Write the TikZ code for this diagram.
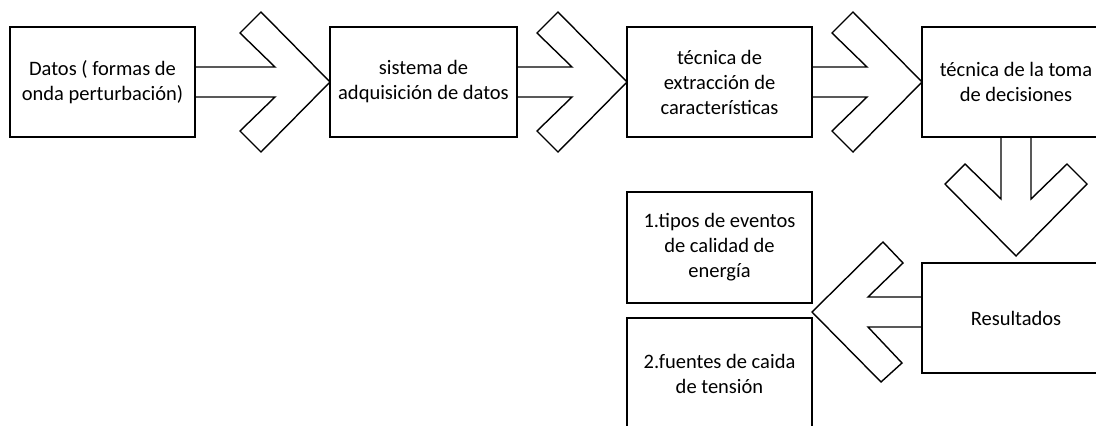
\documentclass[tikz,border=0pt]{standalone}
\usepackage{fontspec}
\setmainfont{Carlito}
\usetikzlibrary{calc}
\tikzset{
  box/.style={draw=black, line width=1.4pt, rectangle, inner sep=0pt, outer sep=0pt,
    align=center, font=\fontsize{20.5}{25}\selectfont, text=black},
  blk/.style={draw=black, line width=1.4pt, line join=miter}
}
\begin{document}
\begin{tikzpicture}[x=1pt,y=-1pt]
\useasboundingbox (0,0) rectangle (1096,426);
\clip (0,0) rectangle (1096,426);
\node[box, minimum width=185pt, minimum height=110pt] (A) at (102.5,82) {Datos ( formas de\\onda perturbación)};
\node[box, minimum width=187pt, minimum height=110pt] (B) at (423.5,82) {sistema de\\adquisición de datos};
\node[box, minimum width=185pt, minimum height=110pt] (C) at (719.5,82) {técnica de\\extracción de\\características};
\node[box, minimum width=188pt, minimum height=110pt] (D) at (1016,82) {técnica de la toma\\de decisiones};
\node[box, minimum width=188pt, minimum height=110pt] (R) at (1016,318) {Resultados};
\node[box, minimum width=185pt, minimum height=111pt] (T1) at (719.5,247.5) {1.tipos de eventos\\de calidad de\\energía};
\node[box, minimum width=185pt, minimum height=111pt] (T2) at (719.5,373.5) {2.fuentes de caida\\de tensión};

% right-pointing block arrows
\foreach \s/\t in {A/B, B/C, C/D}{
  \draw[blk] ($(\s.east)+(0,-15)$) -- ($(\t.west)+(-55,-15)$) -- ($(\t.west)+(-90,-49)$)
    -- ($(\t.west)+(-69,-70)$) -- (\t.west) -- ($(\t.west)+(-69,70)$)
    -- ($(\t.west)+(-90,49)$) -- ($(\t.west)+(-55,15)$) -- ($(\s.east)+(0,15)$);
}
% down arrow
\coordinate (dt) at ($(R.north)+(0,-7)$);
\draw[blk] ($(D.south)+(-15,0)$) -- ($(dt)+(-15,-57)$) -- ($(dt)+(-51,-92)$)
  -- ($(dt)+(-71,-72)$) -- (dt) -- ($(dt)+(71,-72)$) -- ($(dt)+(51,-92)$)
  -- ($(dt)+(15,-57)$) -- ($(D.south)+(15,0)$);
% left arrow
\coordinate (lt) at ($(R.west)+(-110,-6)$);
\draw[blk] ($(R.west)+(0,-21)$) -- ($(lt)+(56,-15)$) -- ($(lt)+(91,-49)$)
  -- ($(lt)+(71,-70)$) -- (lt) -- ($(lt)+(69,70)$) -- ($(lt)+(90,51)$)
  -- ($(lt)+(56,15)$) -- ($(R.west)+(0,9)$);
\end{tikzpicture}
\end{document}
